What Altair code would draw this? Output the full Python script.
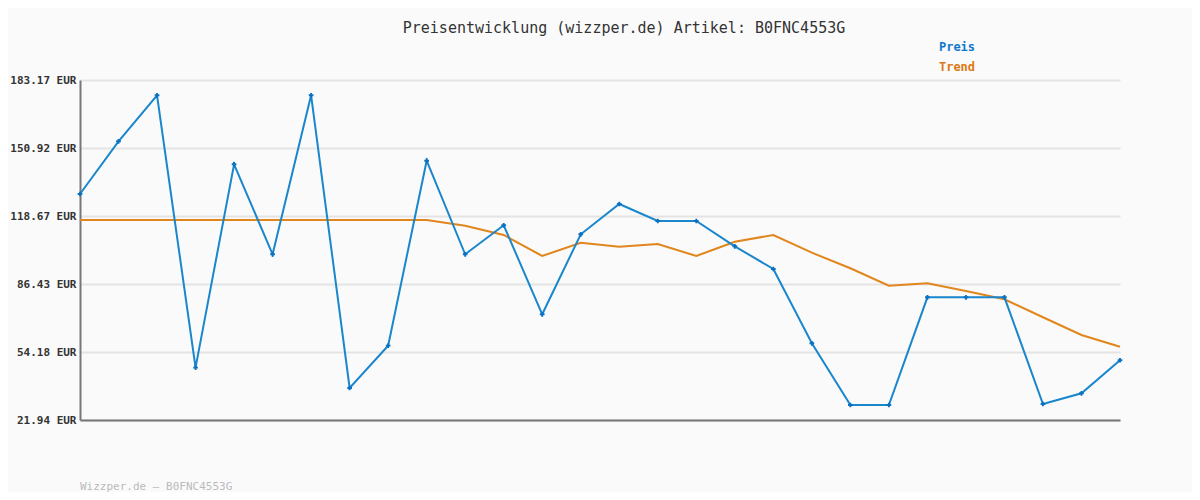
import altair as alt
import pandas as pd

preis = [129.11, 154.10, 175.91, 46.75, 143.20, 100.52, 175.91, 37.12, 57.18, 144.90,
         100.52, 114.27, 72.07, 110.00, 124.37, 116.31, 116.31, 104.31, 93.55, 58.32,
         29.06, 29.06, 80.13, 80.13, 80.13, 29.53, 34.60, 50.26]
trend = [116.78, 116.78, 116.78, 116.78, 116.78, 116.78, 116.78, 116.78, 116.78, 116.78,
         114.08, 109.67, 99.71, 106.02, 104.12, 105.40, 99.71, 106.49, 109.67, 101.28,
         93.88, 85.63, 86.77, 83.12, 79.18, 70.65, 62.25, 56.70]
y_ticks = [21.94, 54.18, 86.43, 118.67, 150.92, 183.17]
series_names = ["Preis", "Trend"]
series_colors = ["#1177cc", "#dd7711"]
title_text = "Preisentwicklung (wizzper.de) Artikel: B0FNC4553G"
footer_text = "Wizzper.de – B0FNC4553G"

idx = list(range(len(preis)))
df_p = pd.DataFrame({"i": idx, "v": preis})
df_t = pd.DataFrame({"i": idx, "v": trend})

MONO = "DejaVu Sans Mono"

xs = alt.Scale(domain=[0, len(preis) - 1], nice=False, zero=False)
ys = alt.Scale(domain=[y_ticks[0], y_ticks[-1]], nice=False, zero=False)

x_enc = alt.X("i:Q", scale=xs, axis=alt.Axis(labels=False, ticks=False, grid=False, title=None,
                                                domainColor="#777777", domainWidth=2))
y_axis = alt.Axis(values=y_ticks, title=None, labelExpr="format(datum.value, '.2f') + ' EUR'",
                  labelFont=MONO, labelFontSize=11, labelFontWeight="bold", labelColor="#333333",
                  ticks=False, labelPadding=4, grid=True, gridColor="#e4e4e4", gridWidth=2,
                  domainColor="#777777", domainWidth=2)

trend_line = alt.Chart(df_t).mark_line(color="#e0861c", strokeWidth=2).encode(
    x=x_enc, y=alt.Y("v:Q", scale=ys, axis=y_axis))
preis_line = alt.Chart(df_p).mark_line(color="#1a86cc", strokeWidth=2).encode(
    x=alt.X("i:Q", scale=xs), y=alt.Y("v:Q", scale=ys))
preis_pts = alt.Chart(df_p).mark_point(shape="cross", filled=True, size=22, color="#0a70c0", opacity=1).encode(
    x=alt.X("i:Q", scale=xs), y=alt.Y("v:Q", scale=ys))

title = alt.Chart(pd.DataFrame({"t": [title_text]})).mark_text(
    font=MONO, fontSize=15, color="#333333", align="center", baseline="middle").encode(
    text="t:N", x=alt.value(544), y=alt.value(-52))

legend_layers = []
for k, (name, col) in enumerate(zip(series_names, series_colors)):
    legend_layers.append(
        alt.Chart(pd.DataFrame({"name": [name]})).mark_text(
            font=MONO, fontSize=12, fontWeight="bold", align="center", baseline="middle",
            color=col).encode(text="name:N", x=alt.value(877), y=alt.value(-33 + 20 * k)))

footer = alt.Chart(pd.DataFrame({"t": [footer_text]})).mark_text(
    font=MONO, fontSize=11, color="#bbbbbb", align="left", baseline="middle").encode(
    text="t:N", x=alt.value(0), y=alt.value(407))

chart = alt.layer(trend_line, preis_line, preis_pts, title, *legend_layers, footer).properties(
    width=1040, height=340,
    autosize=alt.AutoSizeParams(type="none"),
    padding={"left": 72, "top": 72, "right": 72, "bottom": 72},
    background="#fafafa",
).configure_view(stroke=None)

chart.save("out.html", embed_options={"renderer": "svg", "actions": False})
